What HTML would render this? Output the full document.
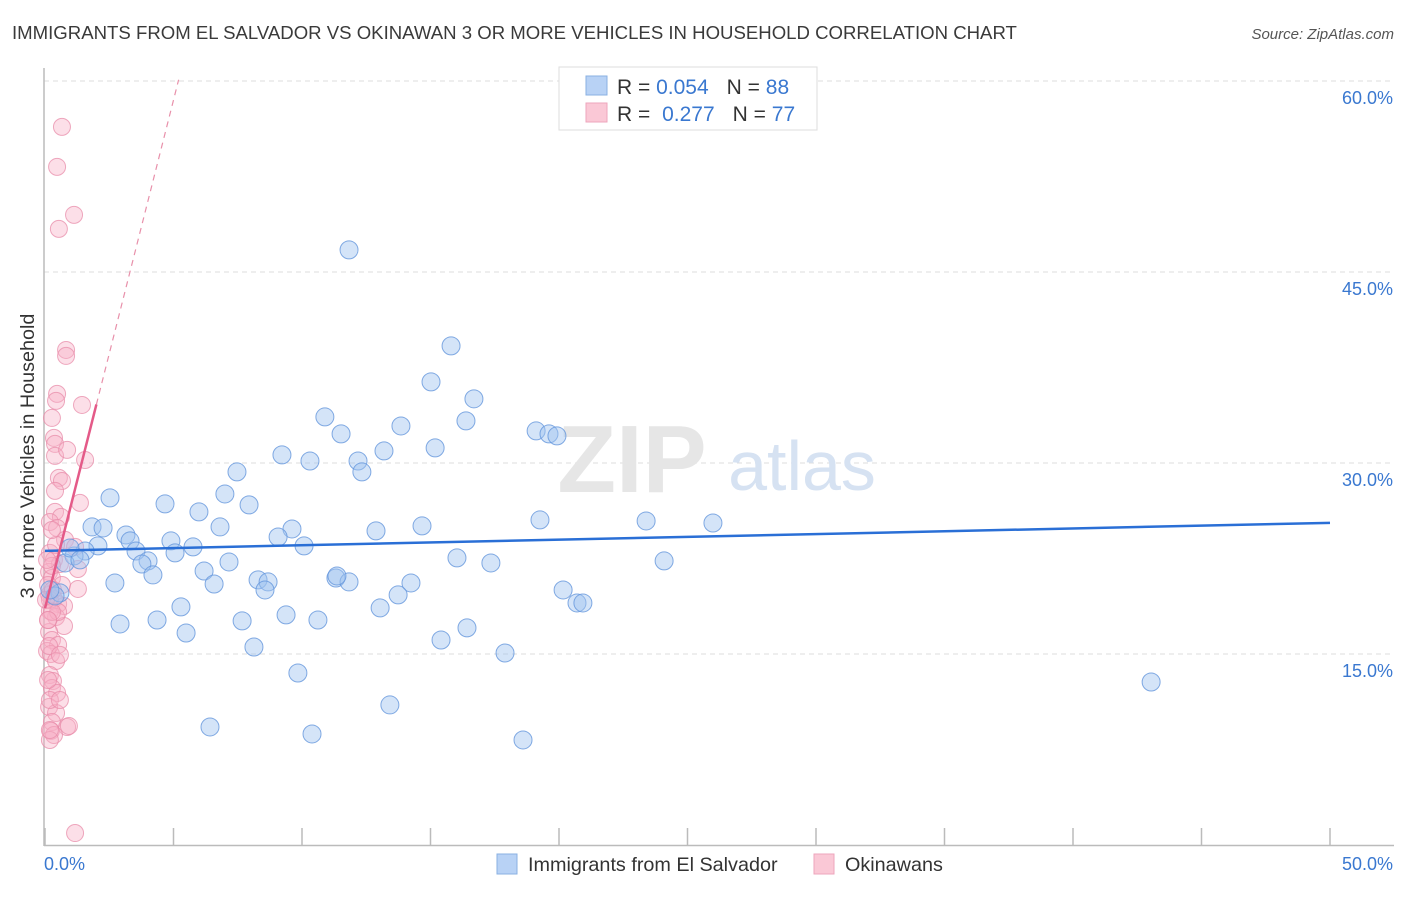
<!DOCTYPE html>
<html><head><meta charset="utf-8">
<style>
body{margin:0;background:#fff;font-family:"Liberation Sans",sans-serif;}
svg text{font-family:"Liberation Sans",sans-serif;}
</style></head>
<body>
<svg id="chart" width="1406" height="892" viewBox="0 0 1406 892" xmlns="http://www.w3.org/2000/svg">
<text x="12" y="39" font-size="18.6" fill="#3a3a3a">IMMIGRANTS FROM EL SALVADOR VS OKINAWAN 3 OR MORE VEHICLES IN HOUSEHOLD CORRELATION CHART</text>
<text x="1394" y="39" font-size="15" fill="#555" text-anchor="end" font-style="italic">Source: ZipAtlas.com</text>
<g id="grid"></g>
<g>
<text x="632" y="492" font-size="96" fill="#e6e6e6" text-anchor="middle" font-family="Liberation Serif" font-weight="bold">ZIP</text>
<text x="802" y="490" font-size="70" fill="#d6e2f2" text-anchor="middle">atlas</text>
</g>
<line x1="44" y1="68" x2="44" y2="846" stroke="#bbb" stroke-width="1.5"/>
<line x1="44" y1="845.5" x2="1394" y2="845.5" stroke="#bbb" stroke-width="1.5"/>
<g id="ticks"></g>
<text transform="translate(34,456) rotate(-90)" font-size="19.8" fill="#333" text-anchor="middle">3 or more Vehicles in Household</text>
<g id="points"></g>
<g id="trends"></g>
<g>
<rect x="559" y="67" width="258" height="63" fill="#fff" stroke="#ddd"/>
<rect x="586" y="76" width="21" height="19" fill="#b8d2f5" stroke="#8ab0e2"/>
<rect x="586" y="103" width="21" height="19" fill="#fac8d6" stroke="#eea6bc"/>
<text x="617" y="94" font-size="21" fill="#333">R = <tspan fill="#3a78d0">0.054</tspan><tspan dx="18">N = </tspan><tspan fill="#3a78d0">88</tspan></text>
<text x="617" y="121" font-size="21" fill="#333">R = <tspan dx="6" fill="#3a78d0">0.277</tspan><tspan dx="18">N = </tspan><tspan fill="#3a78d0">77</tspan></text>
</g>
<g>
<rect x="497" y="854" width="20" height="20" fill="#b8d2f5" stroke="#8ab0e2"/>
<text x="528" y="871" font-size="19.8" fill="#333">Immigrants from El Salvador</text>
<rect x="814" y="854" width="20" height="20" fill="#fac8d6" stroke="#eea6bc"/>
<text x="845" y="871" font-size="19.8" fill="#333">Okinawans</text>
</g>
</svg>
<script>
const yTicks=[15,30,45,60];
const yTickLabels=["15.0%","30.0%","45.0%","60.0%"];
const xTicks=[0,5,10,15,20,25,30,35,40,45,50];
const blueX=[11.83,15.80,15.02,16.69,10.89,13.85,16.38,11.52,19.11,19.61,19.92,13.19,15.18,9.22,10.31,12.18,12.33,7.47,7.00,2.53,4.67,7.94,5.99,19.26,23.39,25.99,14.67,1.83,2.26,6.81,9.61,12.88,3.15,9.07,4.90,3.31,10.08,5.76,2.06,1.56,3.54,5.06,1.13,4.01,16.03,17.35,24.09,7.16,3.77,6.19,4.20,11.32,8.29,8.68,11.83,11.36,6.58,2.72,14.24,8.56,20.16,13.74,20.70,20.93,5.29,13.04,9.38,4.36,7.67,10.62,2.92,16.42,5.49,15.41,8.13,17.90,9.84,43.04,13.42,6.42,10.39,18.60,0.58,0.78,0.39,0.97,1.36,0.19];
const blueY=[46.74,39.20,36.37,35.04,33.62,32.91,33.31,32.29,32.52,32.29,32.13,30.95,31.19,30.64,30.16,30.16,29.30,29.30,27.57,27.26,26.79,26.71,26.16,25.53,25.45,25.29,25.06,24.98,24.90,24.98,24.82,24.67,24.35,24.19,23.88,23.88,23.49,23.41,23.49,23.09,23.09,22.94,22.70,22.31,22.55,22.15,22.31,22.23,22.07,21.52,21.21,20.97,20.82,20.66,20.66,21.13,20.50,20.58,20.58,20.03,20.03,19.64,19.01,19.01,18.70,18.62,18.07,17.67,17.60,17.67,17.36,17.05,16.65,16.10,15.55,15.08,13.51,12.80,11.00,9.27,8.72,8.25,19.80,22.15,19.56,23.33,22.39,20.03];
const pinkX=[0.66,0.47,1.13,0.54,0.82,0.82,0.47,0.43,1.44,0.27,0.35,0.39,1.56,0.39,0.86,0.54,0.66,0.39,1.36,0.39,0.62,0.19,0.47,0.78,1.17,0.19,0.35,0.58,1.28,0.16,0.27,0.66,1.28,0.16,0.35,0.51,0.74,0.19,0.43,0.74,0.16,0.27,0.51,0.08,0.23,0.43,0.19,0.31,0.27,0.47,0.16,0.43,0.27,0.86,0.93,0.23,0.35,0.19,1.17,0.12,0.27,0.12,0.19,0.51,0.31,0.12,0.19,0.58,0.08,0.43,0.27,0.16,0.58,0.04,0.27,0.19,0.12];
const pinkY=[56.40,53.26,49.49,48.39,38.88,38.41,35.43,34.88,34.56,33.54,31.97,31.50,30.24,30.56,31.03,28.83,28.59,27.81,26.87,26.16,25.77,25.37,24.90,23.96,23.41,22.94,22.39,22.07,21.68,21.45,20.97,20.42,20.11,19.64,19.32,18.93,18.77,18.38,17.91,17.20,16.73,16.10,15.71,15.24,15.00,14.45,13.35,12.88,12.33,11.94,10.84,10.37,9.66,9.27,9.35,8.96,8.64,8.25,0.94,20.42,21.92,17.67,19.25,18.30,20.03,12.96,11.39,11.39,22.39,23.57,24.74,15.63,14.93,19.25,18.30,9.03,17.67];
const blueTrend=[0,23.1,50,25.3];
const pinkTrend=[0,18.6,2,34.6,5.2,60.1];

const NS="http://www.w3.org/2000/svg";
const X=v=>45+v*25.7, Y=v=>845-v*12.733;
function mk(tag,attrs,parent){const e=document.createElementNS(NS,tag);for(const k in attrs)e.setAttribute(k,attrs[k]);parent.appendChild(e);return e;}
const grid=document.getElementById('grid'),ticks=document.getElementById('ticks'),pts=document.getElementById('points'),tr=document.getElementById('trends');
yTicks.forEach((t,i)=>{
  const l=mk('line',{x1:44,x2:1394,y1:Y(t),y2:Y(t),stroke:'#ddd','stroke-dasharray':'5,4'},grid);
  
  
  const tx=mk('text',{x:1393,y:Y(t)+23,'font-size':18,fill:'#3a78d0','text-anchor':'end'},ticks);
  tx.textContent=yTickLabels[i];
  
  
});
xTicks.forEach(t=>{
  const l=mk('line',{x1:X(t),x2:X(t),y1:828,y2:845,stroke:'#bbb','stroke-width':1.5},ticks);
  
  
});
const xl0=mk('text',{x:44,y:870,'font-size':18,fill:'#3a78d0'},ticks);xl0.textContent='0.0%';


const xl1=mk('text',{x:1393,y:870,'font-size':18,fill:'#3a78d0','text-anchor':'end'},ticks);xl1.textContent='50.0%';


pinkX.forEach((v,i)=>{
  const c=mk('circle',{cx:X(v),cy:Y(pinkY[i]),r:8.5,fill:'rgba(248,175,198,0.4)',stroke:'rgba(232,140,170,0.75)','stroke-width':1},pts);
  
  
});
blueX.forEach((v,i)=>{
  const c=mk('circle',{cx:X(v),cy:Y(blueY[i]),r:9,fill:'rgba(160,196,240,0.45)',stroke:'rgba(100,150,220,0.8)','stroke-width':1},pts);
  
  
});
const bl=mk('line',{x1:X(blueTrend[0]),y1:Y(blueTrend[1]),x2:X(blueTrend[2]),y2:Y(blueTrend[3]),stroke:'#2a6fd6','stroke-width':2.5},tr);


const pl=mk('line',{x1:X(pinkTrend[0]),y1:Y(pinkTrend[1]),x2:X(pinkTrend[2]),y2:Y(pinkTrend[3]),stroke:'#e45a88','stroke-width':2.5},tr);


const pd=mk('line',{x1:X(pinkTrend[2]),y1:Y(pinkTrend[3]),x2:X(pinkTrend[4]),y2:Y(pinkTrend[5]),stroke:'#e890aa','stroke-width':1.2,'stroke-dasharray':'6,5'},tr);


</script>
</body></html>
